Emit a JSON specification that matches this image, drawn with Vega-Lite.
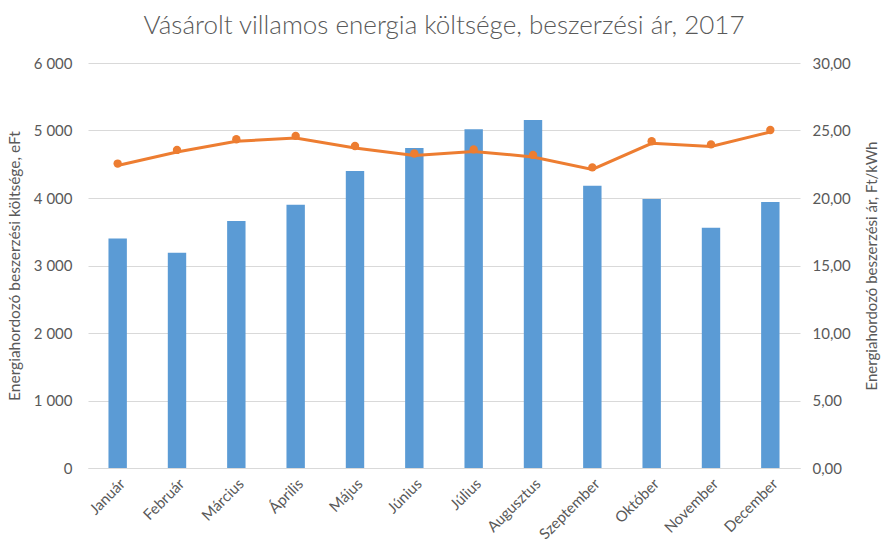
{
  "$schema": "https://vega.github.io/schema/vega-lite/v6.json",
  "width": 712,
  "height": 405,
  "autosize": {"type": "none"},
  "padding": {"left": 88, "top": 63, "right": 87, "bottom": 83},
  "background": "white",
  "config": {
    "font": "Lato",
    "view": {"stroke": null},
    "axis": {"labelColor": "#595959", "titleColor": "#595959", "labelFont": "Lato", "titleFont": "Lato", "titleFontWeight": "normal"}
  },
  "title": {"text": "Vásárolt villamos energia költsége, beszerzési ár, 2017", "fontSize": 26, "fontWeight": 300, "color": "#595959", "font": "Lato", "offset": 17},
  "data": {"values": [
    {"honap": "Január", "koltseg": 3400, "ar": 22.55},
    {"honap": "Február", "koltseg": 3190, "ar": 23.56},
    {"honap": "Március", "koltseg": 3660, "ar": 24.35},
    {"honap": "Április", "koltseg": 3900, "ar": 24.6},
    {"honap": "Május", "koltseg": 4400, "ar": 23.85},
    {"honap": "Június", "koltseg": 4740, "ar": 23.3},
    {"honap": "Július", "koltseg": 5020, "ar": 23.6},
    {"honap": "Augusztus", "koltseg": 5155, "ar": 23.19},
    {"honap": "Szeptember", "koltseg": 4180, "ar": 22.27},
    {"honap": "Október", "koltseg": 3985, "ar": 24.2},
    {"honap": "November", "koltseg": 3560, "ar": 23.97},
    {"honap": "December", "koltseg": 3940, "ar": 25.04}
  ]},
  "encoding": {
    "x": {"field": "honap", "type": "nominal", "sort": null,
      "scale": {"paddingInner": 0.69, "paddingOuter": 0.345},
      "axis": {"title": null, "labelAngle": -45, "labelFontSize": 15, "ticks": false, "domainColor": "#d9d9d9", "domainWidth": 1, "labelPadding": 8}}
  },
  "layer": [
    {
      "mark": {"type": "bar", "color": "#5B9BD5"},
      "encoding": {
        "y": {"field": "koltseg", "type": "quantitative",
          "scale": {"domain": [0, 6000]},
          "axis": {"title": "Energiahordozó beszerzési költsége, eFt", "titleFontSize": 15.5, "titlePadding": 11, "values": [0, 1000, 2000, 3000, 4000, 5000, 6000], "labelExpr": "replace(format(datum.value, ','), ',', ' ')", "labelFontSize": 15, "labelPadding": 16, "ticks": false, "domain": false, "gridColor": "#d9d9d9", "gridWidth": 1}}
      }
    },
    {
      "layer": [
        {"mark": {"type": "line", "color": "#ED7D31", "strokeWidth": 3, "yOffset": 2}},
        {"mark": {"type": "point", "filled": true, "color": "#ED7D31", "size": 70, "opacity": 1}}
      ],
      "encoding": {
        "y": {"field": "ar", "type": "quantitative",
          "scale": {"domain": [0, 30]},
          "axis": {"orient": "right", "title": "Energiahordozó beszerzési ár, Ft/kWh", "titleAngle": -90, "titleBaseline": "top", "titleFontSize": 15, "titlePadding": 14, "values": [0, 5, 10, 15, 20, 25, 30], "labelExpr": "replace(format(datum.value, '.2f'), '.', ',')", "labelFontSize": 15, "labelPadding": 12, "ticks": false, "domain": false, "grid": false}}
      }
    }
  ],
  "resolve": {"scale": {"y": "independent"}}
}
